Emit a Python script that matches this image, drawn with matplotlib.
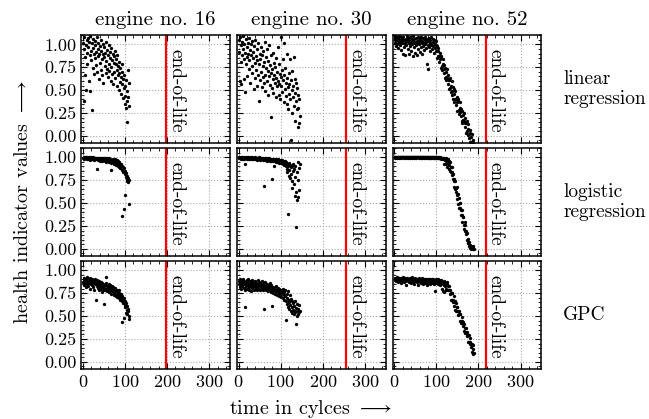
import numpy as np
import matplotlib
matplotlib.use("Agg")
import matplotlib.pyplot as plt
from matplotlib.ticker import AutoMinorLocator, FormatStrFormatter, MultipleLocator

plt.rcParams['font.family'] = 'cmr10'
plt.rcParams['mathtext.fontset'] = 'cm'
plt.rcParams['axes.formatter.use_mathtext'] = True

engines = [16, 30, 52]
end_of_life = [198, 256, 218]
methods = ["linear\nregression", "logistic\nregression", "GPC"]

# health indicator values per cycle
e16_lin = [1.02, 0.95, 0.38, 1.08, 0.86, 0.66, 0.99, 0.50, 1.05, 0.91,
           0.79, 1.07, 0.97, 0.60, 1.03, 0.88, 0.49, 1.09, 0.93, 0.83,
           0.28, 1.01, 0.96, 0.74, 1.06, 0.90, 0.68, 0.99, 0.85, 1.04,
           0.92, 0.77, 1.08, 0.70, 0.95, 0.87, 1.02, 0.62, 0.89, 0.98,
           0.80, 1.05, 0.72, 0.93, 0.84, 0.66, 1.00, 0.90, 0.58, 0.86,
           0.97, 0.76, 0.91, 1.03, 0.69, 0.82, 0.94, 0.73, 0.88, 0.64,
           0.99, 0.79, 0.71, 0.92, 0.85, 0.60, 0.96, 0.75, 0.83, 0.68,
           0.90, 0.57, 0.80, 0.87, 0.70, 0.93, 0.63, 0.78, 0.84, 0.55,
           0.72, 0.88, 0.66, 0.76, 0.50, 0.81, 0.69, 0.59, 0.74, 0.64,
           0.46, 0.70, 0.57, 0.78, 0.41, 0.62, 0.52, 0.67, 0.35, 0.55,
           0.44, 0.61, 0.30, 0.49, 0.15, 0.38, 0.72, 0.42, 0.33, 0.58]
e16_log = [0.99, 1.00, 0.99, 0.98, 1.00, 0.99, 0.99, 1.00, 0.98, 0.99,
           1.00, 0.99, 0.98, 0.99, 1.00, 0.99, 0.97, 0.99, 1.00, 0.99,
           0.98, 0.99, 0.99, 1.00, 0.98, 0.99, 0.97, 0.99, 0.99, 0.98,
           0.99, 0.98, 0.87, 0.99, 0.98, 0.99, 0.97, 0.98, 0.99, 0.96,
           0.99, 0.98, 0.97, 0.99, 0.98, 0.96, 0.99, 0.98, 0.97, 0.99,
           0.98, 0.96, 0.99, 0.97, 0.98, 0.95, 0.99, 0.97, 0.98, 0.96,
           0.97, 0.99, 0.95, 0.98, 0.96, 0.97, 0.94, 0.86, 0.97, 0.95,
           0.98, 0.96, 0.93, 0.97, 0.95, 0.98, 0.94, 0.96, 0.92, 0.97,
           0.95, 0.93, 0.96, 0.91, 0.94, 0.89, 0.95, 0.92, 0.88, 0.93,
           0.90, 0.36, 0.91, 0.86, 0.89, 0.84, 0.88, 0.44, 0.82, 0.59,
           0.85, 0.79, 0.83, 0.76, 0.80, 0.74, 0.77, 0.73, 0.75, 0.49]
e16_gpc = [0.87, 0.90, 0.84, 0.92, 0.86, 0.89, 0.82, 0.91, 0.88, 0.85,
           0.93, 0.87, 0.83, 0.90, 0.86, 0.89, 0.80, 0.92, 0.85, 0.88,
           0.84, 0.91, 0.87, 0.82, 0.89, 0.86, 0.79, 0.90, 0.85, 0.88,
           0.68, 0.86, 0.83, 0.89, 0.81, 0.87, 0.84, 0.78, 0.88, 0.83,
           0.85, 0.80, 0.87, 0.82, 0.76, 0.86, 0.83, 0.79, 0.85, 0.63,
           0.81, 0.84, 0.78, 0.86, 0.80, 0.93, 0.83, 0.77, 0.82, 0.79,
           0.85, 0.76, 0.81, 0.84, 0.78, 0.82, 0.74, 0.80, 0.83, 0.77,
           0.79, 0.82, 0.75, 0.80, 0.73, 0.78, 0.81, 0.72, 0.77, 0.74,
           0.79, 0.71, 0.76, 0.73, 0.78, 0.70, 0.75, 0.72, 0.68, 0.74,
           0.70, 0.66, 0.72, 0.44, 0.68, 0.64, 0.70, 0.48, 0.62, 0.66,
           0.60, 0.53, 0.64, 0.57, 0.61, 0.52, 0.58, 0.55, 0.47, 0.50]

e30_lin = [1.05, 0.92, 0.60, 1.08, 0.81, 0.99, 0.57, 1.03, 0.88, 0.95,
           1.09, 0.62, 0.84, 1.00, 0.91, 0.48, 1.06, 0.79, 0.97, 0.86,
           0.65, 1.02, 0.90, 0.73, 1.07, 0.83, 0.94, 0.58, 1.00, 0.88,
           0.76, 1.04, 0.69, 0.92, 0.85, 0.51, 0.98, 0.80, 0.63, 1.05,
           0.87, 0.72, 0.95, 0.55, 0.83, 0.66, 1.01, 0.78, 0.38, 0.90,
           0.61, 0.84, 0.97, 0.70, 0.53, 0.88, 0.76, 0.64, 0.93, 0.58,
           0.81, 1.03, 0.67, 0.49, 0.86, 0.74, 0.60, 0.95, 0.71, 0.45,
           0.82, 0.65, 0.99, 0.56, 0.77, 0.21, 0.69, 0.88, 0.52, 0.73,
           0.62, 0.91, 0.47, 0.80, 0.66, 0.58, 0.75, 0.42, 0.85, 0.63,
           0.54, 0.70, 0.97, 0.60, 0.45, 0.78, 0.57, 0.68, 0.40, 0.64,
           1.08, 0.55, 0.72, 0.48, 0.84, 0.61, 0.37, 1.02, 0.66, 0.51,
           0.74, 0.44, 0.58, 0.35, 0.89, 0.63, 0.29, 0.53, 0.69, 0.46,
           0.57, 0.84, 0.40, -0.05, 0.61, 0.50, 0.25, 0.71, 0.43, 0.55,
           0.86, 0.33, 0.62, 0.47, 0.16, 0.58, 0.38, 0.52, 0.29, 0.45,
           0.10, 0.30, 0.14, 0.40, 0.22]
e30_log = [0.99, 1.00, 0.99, 0.99, 0.98, 1.00, 0.99, 0.99, 1.00, 0.98,
           0.99, 0.99, 1.00, 0.98, 0.99, 0.93, 0.99, 1.00, 0.99, 0.98,
           0.99, 1.00, 0.99, 0.98, 0.99, 0.99, 1.00, 0.98, 0.99, 0.99,
           0.98, 0.99, 1.00, 0.99, 0.98, 0.99, 0.99, 0.98, 1.00, 0.99,
           0.98, 0.99, 0.99, 0.97, 0.99, 0.98, 0.99, 1.00, 0.98, 0.99,
           0.99, 0.97, 0.98, 0.99, 0.98, 0.99, 0.97, 0.98, 0.99, 0.69,
           0.98, 0.99, 0.97, 0.98, 0.99, 0.97, 0.98, 0.96, 0.99, 0.98,
           0.97, 0.98, 0.99, 0.96, 0.98, 0.97, 0.98, 0.96, 0.76, 0.97,
           0.98, 0.96, 0.97, 0.91, 0.98, 0.96, 0.97, 0.95, 0.98, 0.96,
           0.97, 0.95, 0.98, 0.96, 0.97, 0.94, 0.97, 0.96, 0.95, 0.97,
           0.94, 0.96, 0.95, 0.97, 0.93, 0.96, 0.94, 0.95, 0.92, 0.96,
           0.94, 0.90, 0.95, 0.87, 0.93, 0.84, 0.38, 0.91, 0.80, 0.94,
           0.86, 0.92, 0.77, 0.89, 0.82, 0.74, 0.90, 0.66, 0.85, 0.93,
           0.71, 0.87, 0.58, 0.79, 0.91, 0.62, 0.24, 0.84, 0.53, 0.75,
           0.95, 0.57, 0.88, 0.64, 0.93]
e30_gpc = [0.85, 0.88, 0.82, 0.90, 0.84, 0.87, 0.80, 0.89, 0.83, 0.86,
           0.91, 0.81, 0.85, 0.88, 0.78, 0.60, 0.86, 0.83, 0.89, 0.80,
           0.87, 0.84, 0.90, 0.79, 0.85, 0.82, 0.88, 0.83, 0.77, 0.86,
           0.84, 0.89, 0.81, 0.86, 0.83, 0.79, 0.87, 0.85, 0.82, 0.88,
           0.80, 0.86, 0.83, 0.78, 0.85, 0.89, 0.81, 0.84, 0.87, 0.79,
           0.83, 0.86, 0.80, 0.85, 0.82, 0.88, 0.79, 0.84, 0.81, 0.58,
           0.86, 0.80, 0.83, 0.87, 0.78, 0.82, 0.85, 0.79, 0.84, 0.81,
           0.77, 0.83, 0.80, 0.86, 0.79, 0.82, 0.76, 0.84, 0.61, 0.80,
           0.78, 0.82, 0.75, 0.81, 0.79, 0.74, 0.80, 0.77, 0.83, 0.76,
           0.79, 0.73, 0.81, 0.77, 0.75, 0.80, 0.72, 0.78, 0.76, 0.74,
           0.79, 0.71, 0.77, 0.75, 0.80, 0.70, 0.76, 0.73, 0.68, 0.78,
           0.72, 0.66, 0.46, 0.74, 0.63, 0.70, 0.60, 0.77, 0.65, 0.68,
           0.58, 0.73, 0.62, 0.55, 0.69, 0.60, 0.53, 0.66, 0.57, 0.64,
           0.52, 0.61, 0.56, 0.67, 0.54, 0.41, 0.59, 0.50, 0.63, 0.55,
           0.52, 0.58, 0.54, 0.62, 0.56]

e52_lin = [1.06, 1.02, 1.09, 0.98, 1.04, 1.08, 1.00, 1.05, 0.96, 1.07,
           1.03, 1.09, 0.99, 1.05, 1.01, 1.08, 0.94, 1.04, 1.06, 0.90,
           1.02, 1.08, 0.97, 1.05, 1.00, 0.88, 1.06, 1.03, 0.99, 1.09,
           1.04, 0.95, 1.07, 1.01, 0.89, 1.05, 0.98, 1.08, 1.02, 0.93,
           1.06, 1.00, 1.04, 0.87, 1.09, 0.97, 1.03, 1.06, 0.91, 1.01,
           1.07, 0.99, 1.04, 0.88, 1.02, 1.08, 0.95, 1.05, 1.00, 0.92,
           1.06, 1.03, 0.97, 1.08, 1.01, 0.90, 1.04, 0.98, 1.07, 1.02,
           0.94, 1.05, 1.00, 1.08, 0.96, 1.03, 0.78, 1.06, 0.99, 0.73,
           1.04, 0.97, 1.07, 1.01, 0.93, 1.05, 0.99, 1.08, 0.95, 1.02,
           1.06, 0.98, 1.03, 0.91, 1.05, 1.00, 0.96, 1.04, 0.93, 0.99,
           0.98, 0.85, 0.93, 0.87, 0.96, 0.87, 0.81, 0.91, 0.84, 0.74,
           0.85, 0.87, 0.76, 0.72, 0.78, 0.84, 0.73, 0.69, 0.77, 0.63,
           0.74, 0.61, 0.70, 0.64, 0.73, 0.63, 0.57, 0.67, 0.61, 0.51,
           0.61, 0.63, 0.52, 0.48, 0.55, 0.60, 0.49, 0.45, 0.53, 0.40,
           0.51, 0.37, 0.46, 0.40, 0.49, 0.40, 0.34, 0.43, 0.37, 0.27,
           0.38, 0.40, 0.28, 0.24, 0.31, 0.37, 0.26, 0.22, 0.29, 0.16,
           0.27, 0.14, 0.23, 0.17, 0.25, 0.16, 0.10, 0.20, 0.14, 0.03,
           0.14, 0.16, 0.05, 0.01, 0.08, 0.13, 0.02, -0.02, 0.06, -0.07,
           0.03, -0.10, -0.01, -0.07, 0.02, -0.08, -0.14, -0.04, -0.10]
e52_log = [1.00, 1.00, 0.99, 1.00, 1.00, 1.00, 0.99, 1.00, 1.00, 1.00,
           1.00, 0.99, 1.00, 1.00, 1.00, 1.00, 0.99, 1.00, 1.00, 1.00,
           1.00, 1.00, 0.99, 1.00, 1.00, 1.00, 1.00, 0.99, 1.00, 1.00,
           1.00, 0.99, 1.00, 1.00, 1.00, 1.00, 0.99, 1.00, 1.00, 1.00,
           1.00, 1.00, 0.99, 1.00, 1.00, 1.00, 0.99, 1.00, 1.00, 1.00,
           1.00, 0.99, 1.00, 1.00, 1.00, 1.00, 1.00, 0.99, 1.00, 1.00,
           1.00, 1.00, 0.99, 1.00, 1.00, 0.99, 1.00, 1.00, 1.00, 1.00,
           0.99, 1.00, 1.00, 1.00, 0.99, 1.00, 1.00, 1.00, 0.99, 1.00,
           1.00, 0.99, 1.00, 1.00, 0.99, 1.00, 1.00, 0.99, 1.00, 1.00,
           0.99, 1.00, 1.00, 0.99, 1.00, 0.99, 1.00, 1.00, 0.99, 1.00,
           1.00, 0.99, 1.00, 0.99, 1.00, 0.99, 0.99, 1.00, 0.99, 0.99,
           0.99, 0.98, 0.99, 0.99, 0.98, 0.99, 0.93, 0.98, 0.99, 0.97,
           0.98, 0.93, 0.99, 0.96, 0.97, 0.89, 0.98, 0.94, 0.87, 0.96,
           0.92, 0.85, 0.95, 0.84, 0.89, 0.84, 0.89, 0.81, 0.76, 0.82,
           0.76, 0.68, 0.74, 0.74, 0.65, 0.62, 0.66, 0.68, 0.59, 0.55,
           0.60, 0.49, 0.56, 0.45, 0.50, 0.45, 0.50, 0.42, 0.37, 0.43,
           0.37, 0.29, 0.35, 0.35, 0.26, 0.22, 0.26, 0.29, 0.20, 0.16,
           0.20, 0.10, 0.17, 0.06, 0.11, 0.06, 0.08, 0.03, 0.02, 0.04,
           0.01, 0.03, 0.00, 0.02, 0.01, 0.03, 0.00, 0.01, 0.00]
e52_gpc = [0.91, 0.89, 0.92, 0.88, 0.90, 0.93, 0.89, 0.91, 0.87, 0.90,
           0.92, 0.88, 0.90, 0.91, 0.86, 0.92, 0.89, 0.90, 0.88, 0.93,
           0.89, 0.91, 0.87, 0.90, 0.92, 0.88, 0.91, 0.89, 0.84, 0.90,
           0.92, 0.88, 0.90, 0.91, 0.87, 0.89, 0.92, 0.88, 0.90, 0.86,
           0.91, 0.89, 0.93, 0.87, 0.90, 0.88, 0.91, 0.85, 0.89, 0.92,
           0.88, 0.90, 0.87, 0.91, 0.89, 0.84, 0.90, 0.88, 0.92, 0.87,
           0.89, 0.91, 0.86, 0.90, 0.88, 0.92, 0.87, 0.89, 0.85, 0.90,
           0.88, 0.91, 0.86, 0.89, 0.87, 0.90, 0.84, 0.88, 0.91, 0.86,
           0.89, 0.87, 0.90, 0.85, 0.88, 0.91, 0.86, 0.89, 0.87, 0.90,
           0.86, 0.88, 0.90, 0.85, 0.89, 0.87, 0.77, 0.88, 0.86, 0.90,
           0.87, 0.89, 0.85, 0.88, 0.91, 0.86, 0.89, 0.87, 0.84, 0.88,
           0.86, 0.89, 0.80, 0.87, 0.85, 0.77, 0.88, 0.84, 0.76, 0.87,
           0.83, 0.78, 0.86, 0.80, 0.85, 0.87, 0.78, 0.83, 0.79, 0.83,
           0.78, 0.74, 0.79, 0.75, 0.68, 0.75, 0.75, 0.68, 0.65, 0.68,
           0.72, 0.65, 0.61, 0.66, 0.57, 0.64, 0.55, 0.60, 0.56, 0.60,
           0.55, 0.51, 0.56, 0.52, 0.45, 0.52, 0.52, 0.45, 0.42, 0.45,
           0.49, 0.42, 0.39, 0.43, 0.34, 0.41, 0.32, 0.37, 0.33, 0.37,
           0.32, 0.28, 0.33, 0.29, 0.22, 0.29, 0.29, 0.22, 0.19, 0.22,
           0.26, 0.19, 0.16, 0.20, 0.11, 0.18, 0.09, 0.14, 0.10]

data = [[e16_lin, e30_lin, e52_lin],
        [e16_log, e30_log, e52_log],
        [e16_gpc, e30_gpc, e52_gpc]]

fig, axes = plt.subplots(3, 3, figsize=(6.49, 4.19), dpi=100, sharex=True, sharey=True)
fig.subplots_adjust(left=0.125, right=0.834, top=0.916, bottom=0.12,
                    wspace=0.047, hspace=0.05)

for r in range(3):
    for c in range(3):
        ax = axes[r, c]
        vals = data[r][c]
        cycles = np.arange(1, len(vals) + 1)
        ax.grid(True, color='#aaaaaa', linestyle=':', linewidth=0.8)
        ax.plot(cycles, vals, 'o', color='black', ms=2.4, mew=0)
        ax.axvline(end_of_life[c], color='red', lw=1.6)
        ax.text(end_of_life[c] + 2, 0.49, 'end-of-life', rotation=270,
                ha='left', va='center', fontsize=14)
        ax.set_xlim(-4, 349)
        ax.set_ylim(-0.075, 1.1)
        ax.xaxis.set_major_locator(MultipleLocator(100))
        ax.yaxis.set_major_locator(MultipleLocator(0.25))
        ax.yaxis.set_major_formatter(FormatStrFormatter('%.2f'))
        ax.xaxis.set_minor_locator(AutoMinorLocator())
        ax.yaxis.set_minor_locator(AutoMinorLocator())
        ax.tick_params(which='both', direction='in', top=True, right=True,
                       labelsize=13)
        ax.tick_params(which='major', length=4)
        ax.tick_params(which='minor', length=2)
        for s in ax.spines.values():
            s.set_linewidth(1.1)
        if r == 0:
            ax.set_title('engine no. %d' % engines[c], fontsize=15, pad=7)
    pos = axes[r, 2].get_position()
    fig.text(0.868, (pos.y0 + pos.y1) / 2, methods[r], ha='left', va='center',
             fontsize=14, linespacing=1.1)

fig.text(0.035, 0.518, r'health indicator values $\longrightarrow$',
         rotation=90, ha='center', va='center', fontsize=14.5)
fig.text(0.479, 0.025, r'time in cylces $\longrightarrow$',
         ha='center', va='center', fontsize=14.5)

fig.savefig('out.png', dpi=100)
